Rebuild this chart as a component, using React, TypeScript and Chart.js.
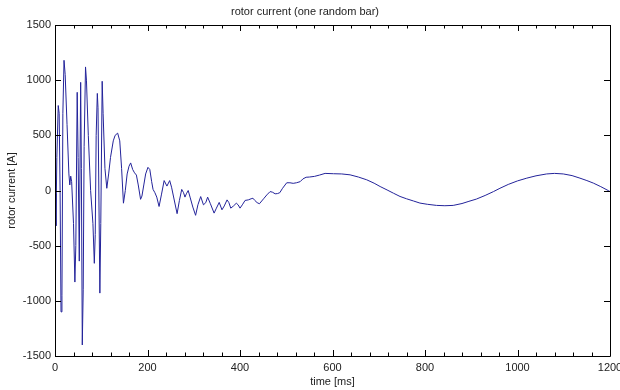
import React, { useEffect, useRef } from "react";
import { Chart, registerables } from "chart.js";

Chart.register(...registerables);

const timeMs: number[] = [
  0, 2, 4, 7, 9, 11, 13, 15, 17, 19.5, 22, 26, 30, 32, 34, 36, 40, 43, 45, 48,
  50, 52.5, 55.5, 57, 59, 61, 63, 66, 68, 72, 77, 82, 85, 87, 89, 91.5, 93, 97, 99, 102,
  104, 108, 112, 116, 120, 126, 130, 135.5, 140, 144, 148, 152, 156, 160, 163.6, 168, 172, 176, 180, 185,
  188, 192, 196, 201, 205, 209, 212, 216, 220, 225, 230, 236, 242, 248, 252, 256, 264, 269, 274, 278,
  281, 284, 288, 292, 298, 304, 309, 315, 321, 326, 330, 336, 344, 349, 355, 361, 366, 372, 376, 380,
  386, 392, 396, 400, 405, 411, 418, 424, 428, 432, 437, 442, 447, 452, 458, 465, 470, 476, 481, 486,
  492, 501, 508, 515, 522, 530, 536, 543, 550, 561, 572, 584, 602, 620, 638, 656, 674, 690, 703, 718,
  732, 746, 760, 775, 789, 805, 825, 843, 861, 880, 895, 911, 930, 948, 962, 980, 1000, 1020, 1040, 1063,
  1080, 1099, 1118, 1135, 1150, 1164, 1180, 1196, 1200,
];

const currentA: number[] = [
  -30, -320, 300, 770, 700, 0, -1100, -950, 700, 1180, 1050, 600, 150, 50, 130, 80, -300, -830, -500, 890,
  300, -640, 980, 200, -1400, -900, 400, 1120, 1000, 500, 0, -300, -660, -400, 500, 880, 750, -930, -300, 990,
  700, 200, 20, 150, 300, 450, 500, 520, 450, 200, -115, 0, 150, 220, 250, 190, 160, 140, 50, -80,
  -50, 50, 150, 210, 190, 80, 10, -20, -60, -145, -40, 90, 40, 90, 30, -50, -210, -90, 10, -20,
  -60, -30, 0, -60, -150, -225, -130, -55, -130, -110, -60, -120, -205, -160, -108, -175, -140, -85, -110, -160,
  -140, -115, -130, -160, -130, -90, -85, -75, -70, -90, -110, -120, -95, -70, -40, -10, -15, -30, -28, -20,
  20, 70, 70, 65, 70, 80, 105, 120, 122, 128, 140, 155, 152, 150, 142, 122, 97, 66, 36, 5,
  -25, -54, -75, -95, -114, -125, -135, -138, -135, -118, -98, -78, -45, -10, 20, 55, 87, 112, 133, 150,
  155, 150, 135, 112, 90, 67, 35, 0, -10,
];

const xTickLabels: number[] = [0, 200, 400, 600, 800, 1000, 1200];
const yTickLabels: number[] = [-1500, -1000, -500, 0, 500, 1000, 1500];
const xMinorStep = 40;

const TEXT = "#222222";
const FONT = "'Liberation Sans', Arial, sans-serif";

const boxPlugin = {
  id: "matlabBox",
  afterDatasetsDraw(chart: any) {
    const { ctx, chartArea } = chart;
    const xs = chart.scales.x;
    const ys = chart.scales.y;
    const { left, right, top, bottom } = chartArea;
    ctx.save();
    ctx.strokeStyle = "#000000";
    ctx.lineWidth = 1;
    ctx.beginPath();
    ctx.rect(Math.round(left) + 0.5, Math.round(top) + 0.5, Math.round(right - left), Math.round(bottom - top));
    ctx.stroke();
    ctx.beginPath();
    for (let v = 0; v <= 1200; v += xMinorStep) {
      const px = Math.round(xs.getPixelForValue(v)) + 0.5;
      const len = v % 200 === 0 ? 6 : 3.5;
      ctx.moveTo(px, bottom);
      ctx.lineTo(px, bottom - len);
      ctx.moveTo(px, top);
      ctx.lineTo(px, top + len);
    }
    for (const v of yTickLabels) {
      const py = Math.round(ys.getPixelForValue(v)) + 0.5;
      ctx.moveTo(left, py);
      ctx.lineTo(left + 6, py);
      ctx.moveTo(right, py);
      ctx.lineTo(right - 6, py);
    }
    ctx.stroke();
    ctx.restore();
  },
};

export default function App() {
  const ref = useRef<HTMLCanvasElement | null>(null);
  useEffect(() => {
    if (!ref.current) return;
    const data = timeMs.map((t, i) => ({ x: t, y: currentA[i] }));
    const chart = new Chart(ref.current, {
      type: "line",
      data: {
        datasets: [
          {
            data,
            borderColor: "#23239a",
            borderWidth: 1,
            pointRadius: 0,
            tension: 0,
            fill: false,
          },
        ],
      },
      plugins: [boxPlugin],
      options: {
        animation: false,
        responsive: false,
        maintainAspectRatio: false,
        layout: { padding: { left: 0, right: 10, top: 0, bottom: 0 } },
        plugins: {
          legend: { display: false },
          tooltip: { enabled: false },
          title: {
            display: true,
            text: "rotor current (one random bar)",
            color: TEXT,
            font: { family: FONT, size: 11, weight: "normal", lineHeight: 1.2 },
            padding: { top: 5, bottom: 6.8 },
          },
        },
        scales: {
          x: {
            type: "linear",
            min: 0,
            max: 1200,
            afterBuildTicks: (s: any) => {
              s.ticks = xTickLabels.map((v) => ({ value: v }));
            },
            afterFit: (s: any) => {
              s.height = 34;
              s.paddingLeft = 0;
              s.paddingRight = 0;
            },
            grid: { display: false, drawTicks: false },
            border: { display: false },
            ticks: {
              color: TEXT,
              font: { family: FONT, size: 11 },
              padding: 5,
              maxRotation: 0,
              autoSkip: false,
              callback: (v: any) => String(v),
            },
            title: {
              display: true,
              text: "time [ms]",
              color: TEXT,
              font: { family: FONT, size: 11, lineHeight: 1.2 },
              padding: { top: 0, bottom: 1 },
            },
          },
          y: {
            type: "linear",
            min: -1500,
            max: 1500,
            afterBuildTicks: (s: any) => {
              s.ticks = yTickLabels.map((v) => ({ value: v }));
            },
            afterFit: (s: any) => {
              s.width = 55;
              s.paddingTop = 0;
              s.paddingBottom = 0;
            },
            grid: { display: false, drawTicks: false },
            border: { display: false },
            ticks: {
              color: TEXT,
              font: { family: FONT, size: 11 },
              padding: 4,
              autoSkip: false,
              callback: (v: any) => String(v),
            },
            title: {
              display: true,
              text: "rotor current [A]",
              color: TEXT,
              font: { family: FONT, size: 11, lineHeight: 1.2 },
              padding: { top: 5, bottom: 0 },
            },
          },
        },
      },
    });
    return () => chart.destroy();
  }, []);
  return (
    <div style={{ position: "absolute", left: 0, top: 0, width: 620, height: 390, background: "#ffffff" }}>
      <canvas ref={ref} width={620} height={390} style={{ display: "block" }} />
    </div>
  );
}
